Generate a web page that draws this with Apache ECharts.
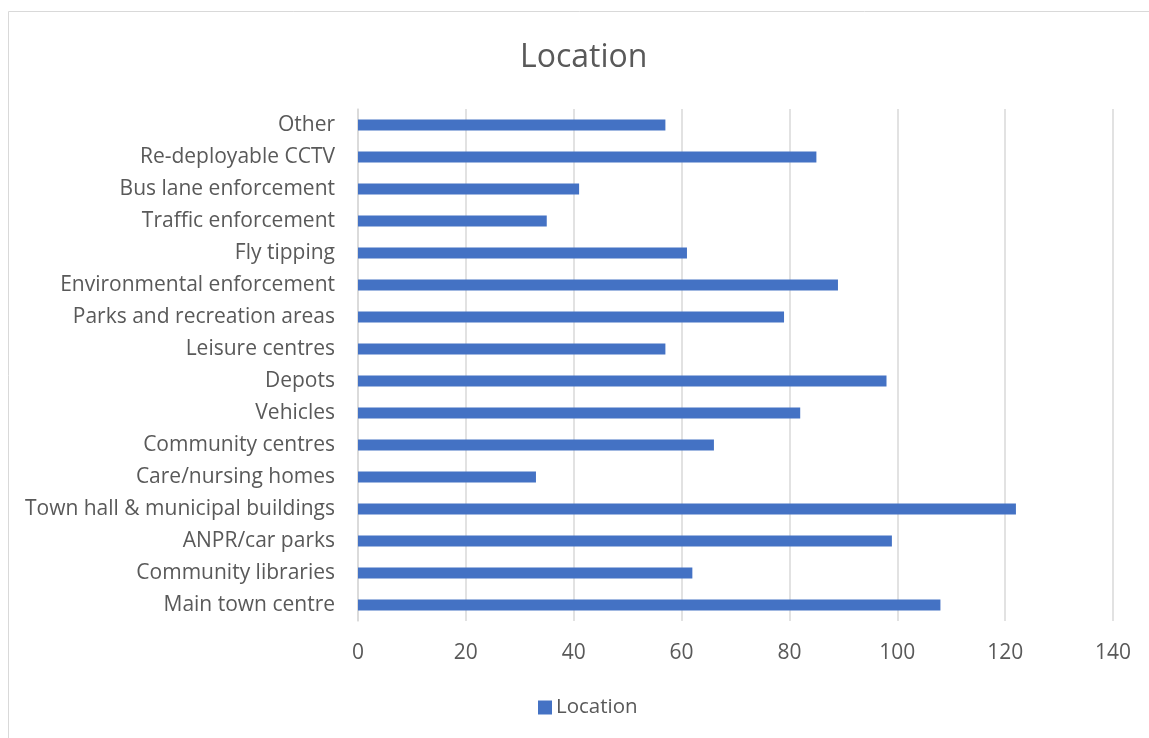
<!DOCTYPE html>
<html>
<head>
<meta charset="utf-8">
<script src="https://cdn.jsdelivr.net/npm/echarts@6/dist/echarts.min.js"></script>
<style>
html,body{margin:0;padding:0;background:#fff;}
#chart{width:1149px;height:738px;}
</style>
</head>
<body>
<div id="chart"></div>
<script>
const categories = [
  "Main town centre",
  "Community libraries",
  "ANPR/car parks",
  "Town hall & municipal buildings",
  "Care/nursing homes",
  "Community centres",
  "Vehicles",
  "Depots",
  "Leisure centres",
  "Parks and recreation areas",
  "Environmental enforcement",
  "Fly tipping",
  "Traffic enforcement",
  "Bus lane enforcement",
  "Re-deployable CCTV",
  "Other"
];
const values = [108, 62, 99, 122, 33, 66, 82, 98, 57, 79, 89, 61, 35, 41, 85, 57];
const seriesName = "Location";
const titleText = "Location";

const FONT = "Open Sans";
const chart = echarts.init(document.getElementById('chart'));
chart.setOption({
  animation: false,
  textStyle: { fontFamily: FONT },
  graphic: [{
    type: 'rect',
    shape: { x: 8.5, y: 11.5, width: 1160, height: 760 },
    style: { fill: 'none', stroke: '#d9d9d9', lineWidth: 1 },
    silent: true
  }],
  title: {
    text: titleText,
    left: 515,
    top: 37,
    textStyle: { fontFamily: FONT, fontSize: 32, fontWeight: 'normal', color: '#595959' }
  },
  legend: {
    data: [seriesName],
    bottom: 15,
    left: 533,
    itemWidth: 14,
    itemHeight: 14,
    itemGap: 6,
    icon: 'rect',
    textStyle: { fontFamily: FONT, fontSize: 20.5, color: '#595959', padding: [0, 0, 0, -1] }
  },
  grid: { left: 358, right: 36, top: 109, bottom: 117, containLabel: false },
  xAxis: {
    type: 'value',
    min: 0,
    max: 140,
    interval: 20,
    axisLine: { show: false },
    axisTick: { show: false },
    splitLine: { lineStyle: { color: '#d9d9d9', width: 1.5 } },
    axisLabel: { fontFamily: FONT, fontSize: 21, color: '#595959', margin: 22 }
  },
  yAxis: {
    type: 'category',
    data: categories,
    axisLine: { show: true, lineStyle: { color: '#d9d9d9', width: 1.5 } },
    axisTick: { show: false },
    axisLabel: { fontFamily: FONT, fontSize: 21, color: '#595959', margin: 23, padding: [4, 0, 0, 0] }
  },
  series: [{
    name: seriesName,
    type: 'bar',
    data: values,
    barWidth: '35%',
    itemStyle: { color: '#4472C4' }
  }]
});
</script>
</body>
</html>
